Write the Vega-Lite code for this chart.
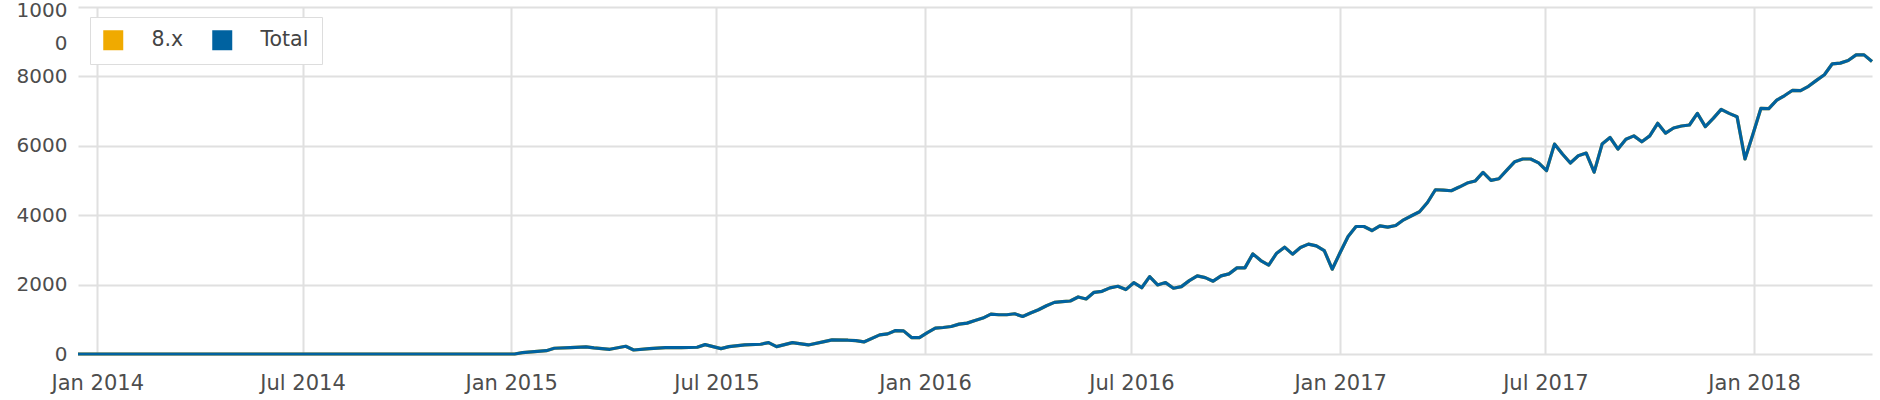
{
  "$schema": "https://vega.github.io/schema/vega-lite/v6.json",
  "width": 1794,
  "height": 347,
  "autosize": {"type": "none"},
  "padding": {"left": 78, "top": 7, "right": 8, "bottom": 46},
  "background": "white",
  "config": {"view": {"stroke": null}, "font": "DejaVu Sans"},
  "data": {"values": [
    {"date":"2013-12-15","v8x":0,"total":0},{"date":"2013-12-22","v8x":0,"total":0},{"date":"2013-12-29","v8x":0,"total":0},
    {"date":"2014-01-05","v8x":0,"total":0},{"date":"2014-01-12","v8x":0,"total":0},{"date":"2014-01-19","v8x":0,"total":0},{"date":"2014-01-26","v8x":0,"total":0},
    {"date":"2014-02-02","v8x":0,"total":0},{"date":"2014-02-09","v8x":0,"total":0},{"date":"2014-02-16","v8x":0,"total":0},{"date":"2014-02-23","v8x":0,"total":0},
    {"date":"2014-03-02","v8x":0,"total":0},{"date":"2014-03-09","v8x":0,"total":0},{"date":"2014-03-16","v8x":0,"total":0},{"date":"2014-03-23","v8x":0,"total":0},{"date":"2014-03-30","v8x":0,"total":0},
    {"date":"2014-04-06","v8x":0,"total":0},{"date":"2014-04-13","v8x":0,"total":0},{"date":"2014-04-20","v8x":0,"total":0},{"date":"2014-04-27","v8x":0,"total":0},
    {"date":"2014-05-04","v8x":0,"total":0},{"date":"2014-05-11","v8x":0,"total":0},{"date":"2014-05-18","v8x":0,"total":0},{"date":"2014-05-25","v8x":0,"total":0},
    {"date":"2014-06-01","v8x":0,"total":0},{"date":"2014-06-08","v8x":0,"total":0},{"date":"2014-06-15","v8x":0,"total":0},{"date":"2014-06-22","v8x":0,"total":0},{"date":"2014-06-29","v8x":0,"total":0},
    {"date":"2014-07-06","v8x":0,"total":0},{"date":"2014-07-13","v8x":0,"total":0},{"date":"2014-07-20","v8x":0,"total":0},{"date":"2014-07-27","v8x":0,"total":0},
    {"date":"2014-08-03","v8x":0,"total":0},{"date":"2014-08-10","v8x":0,"total":0},{"date":"2014-08-17","v8x":0,"total":0},{"date":"2014-08-24","v8x":0,"total":0},{"date":"2014-08-31","v8x":0,"total":0},
    {"date":"2014-09-07","v8x":0,"total":0},{"date":"2014-09-14","v8x":0,"total":0},{"date":"2014-09-21","v8x":0,"total":0},{"date":"2014-09-28","v8x":0,"total":0},
    {"date":"2014-10-05","v8x":0,"total":0},{"date":"2014-10-12","v8x":0,"total":0},{"date":"2014-10-19","v8x":0,"total":0},{"date":"2014-10-26","v8x":0,"total":0},
    {"date":"2014-11-02","v8x":0,"total":0},{"date":"2014-11-09","v8x":0,"total":0},{"date":"2014-11-16","v8x":0,"total":0},{"date":"2014-11-23","v8x":0,"total":0},{"date":"2014-11-30","v8x":0,"total":0},
    {"date":"2014-12-07","v8x":0,"total":0},{"date":"2014-12-14","v8x":0,"total":0},{"date":"2014-12-21","v8x":0,"total":0},{"date":"2014-12-28","v8x":0,"total":0},
    {"date":"2015-01-04","v8x":0,"total":0},{"date":"2015-01-11","v8x":38,"total":38},
    {"date":"2015-02-01","v8x":96,"total":96},{"date":"2015-02-08","v8x":165,"total":165},{"date":"2015-02-22","v8x":183,"total":183},
    {"date":"2015-03-08","v8x":203,"total":203},{"date":"2015-03-15","v8x":174,"total":174},{"date":"2015-03-29","v8x":136,"total":136},
    {"date":"2015-04-12","v8x":223,"total":223},{"date":"2015-04-19","v8x":116,"total":116},{"date":"2015-05-03","v8x":154,"total":154},
    {"date":"2015-05-17","v8x":183,"total":183},{"date":"2015-05-31","v8x":183,"total":183},{"date":"2015-06-14","v8x":194,"total":194},
    {"date":"2015-06-21","v8x":270,"total":270},{"date":"2015-07-05","v8x":154,"total":154},{"date":"2015-07-12","v8x":212,"total":212},
    {"date":"2015-07-26","v8x":261,"total":261},{"date":"2015-08-09","v8x":281,"total":281},{"date":"2015-08-16","v8x":328,"total":328},
    {"date":"2015-08-23","v8x":212,"total":212},{"date":"2015-09-06","v8x":328,"total":328},{"date":"2015-09-20","v8x":261,"total":261},
    {"date":"2015-10-04","v8x":357,"total":357},{"date":"2015-10-11","v8x":406,"total":406},{"date":"2015-10-25","v8x":397,"total":397},
    {"date":"2015-11-01","v8x":386,"total":386},{"date":"2015-11-08","v8x":348,"total":348},{"date":"2015-11-22","v8x":551,"total":551},
    {"date":"2015-11-29","v8x":580,"total":580},{"date":"2015-12-06","v8x":676,"total":676},{"date":"2015-12-13","v8x":667,"total":667},
    {"date":"2015-12-20","v8x":473,"total":473},{"date":"2015-12-27","v8x":473,"total":473},
    {"date":"2016-01-03","v8x":618,"total":618},{"date":"2016-01-10","v8x":745,"total":745},{"date":"2016-01-17","v8x":763,"total":763},{"date":"2016-01-24","v8x":792,"total":792},{"date":"2016-01-31","v8x":861,"total":861},
    {"date":"2016-02-07","v8x":890,"total":890},{"date":"2016-02-14","v8x":966,"total":966},{"date":"2016-02-21","v8x":1035,"total":1035},{"date":"2016-02-28","v8x":1151,"total":1151},
    {"date":"2016-03-06","v8x":1131,"total":1131},{"date":"2016-03-13","v8x":1131,"total":1131},{"date":"2016-03-20","v8x":1160,"total":1160},{"date":"2016-03-27","v8x":1082,"total":1082},
    {"date":"2016-04-03","v8x":1180,"total":1180},{"date":"2016-04-10","v8x":1276,"total":1276},{"date":"2016-04-17","v8x":1392,"total":1392},{"date":"2016-04-24","v8x":1488,"total":1488},
    {"date":"2016-05-01","v8x":1508,"total":1508},{"date":"2016-05-08","v8x":1528,"total":1528},{"date":"2016-05-15","v8x":1644,"total":1644},{"date":"2016-05-22","v8x":1586,"total":1586},{"date":"2016-05-29","v8x":1778,"total":1778},
    {"date":"2016-06-05","v8x":1807,"total":1807},{"date":"2016-06-12","v8x":1905,"total":1905},{"date":"2016-06-19","v8x":1952,"total":1952},{"date":"2016-06-26","v8x":1856,"total":1856},
    {"date":"2016-07-03","v8x":2055,"total":2055},{"date":"2016-07-10","v8x":1910,"total":1910},{"date":"2016-07-17","v8x":2230,"total":2230},{"date":"2016-07-24","v8x":1991,"total":1991},{"date":"2016-07-31","v8x":2058,"total":2058},
    {"date":"2016-08-07","v8x":1896,"total":1896},{"date":"2016-08-14","v8x":1942,"total":1942},{"date":"2016-08-21","v8x":2115,"total":2115},{"date":"2016-08-28","v8x":2251,"total":2251},
    {"date":"2016-09-04","v8x":2202,"total":2202},{"date":"2016-09-11","v8x":2098,"total":2098},{"date":"2016-09-18","v8x":2251,"total":2251},{"date":"2016-09-25","v8x":2309,"total":2309},
    {"date":"2016-10-02","v8x":2482,"total":2482},{"date":"2016-10-09","v8x":2482,"total":2482},{"date":"2016-10-16","v8x":2886,"total":2886},{"date":"2016-10-23","v8x":2693,"total":2693},{"date":"2016-10-30","v8x":2560,"total":2560},
    {"date":"2016-11-06","v8x":2906,"total":2906},{"date":"2016-11-13","v8x":3079,"total":3079},{"date":"2016-11-20","v8x":2877,"total":2877},{"date":"2016-11-27","v8x":3068,"total":3068},
    {"date":"2016-12-04","v8x":3166,"total":3166},{"date":"2016-12-11","v8x":3117,"total":3117},{"date":"2016-12-18","v8x":2982,"total":2982},{"date":"2016-12-25","v8x":2444,"total":2444},
    {"date":"2017-01-01","v8x":2924,"total":2924},{"date":"2017-01-08","v8x":3385,"total":3385},{"date":"2017-01-15","v8x":3674,"total":3674},{"date":"2017-01-22","v8x":3674,"total":3674},{"date":"2017-01-29","v8x":3558,"total":3558},
    {"date":"2017-02-05","v8x":3694,"total":3694},{"date":"2017-02-12","v8x":3656,"total":3656},{"date":"2017-02-19","v8x":3703,"total":3703},{"date":"2017-02-26","v8x":3867,"total":3867},
    {"date":"2017-03-05","v8x":3983,"total":3983},{"date":"2017-03-12","v8x":4098,"total":4098},{"date":"2017-03-19","v8x":4366,"total":4366},{"date":"2017-03-26","v8x":4733,"total":4733},
    {"date":"2017-04-02","v8x":4724,"total":4724},{"date":"2017-04-09","v8x":4704,"total":4704},{"date":"2017-04-16","v8x":4811,"total":4811},{"date":"2017-04-23","v8x":4926,"total":4926},{"date":"2017-04-30","v8x":4984,"total":4984},
    {"date":"2017-05-07","v8x":5232,"total":5232},{"date":"2017-05-14","v8x":5002,"total":5002},{"date":"2017-05-21","v8x":5050,"total":5050},{"date":"2017-05-28","v8x":5300,"total":5300},
    {"date":"2017-06-04","v8x":5543,"total":5543},{"date":"2017-06-11","v8x":5620,"total":5620},{"date":"2017-06-18","v8x":5620,"total":5620},{"date":"2017-06-25","v8x":5506,"total":5506},
    {"date":"2017-07-02","v8x":5286,"total":5286},{"date":"2017-07-09","v8x":6049,"total":6049},{"date":"2017-07-16","v8x":5763,"total":5763},{"date":"2017-07-23","v8x":5506,"total":5506},{"date":"2017-07-30","v8x":5714,"total":5714},
    {"date":"2017-08-06","v8x":5791,"total":5791},{"date":"2017-08-13","v8x":5240,"total":5240},{"date":"2017-08-20","v8x":6049,"total":6049},{"date":"2017-08-27","v8x":6240,"total":6240},
    {"date":"2017-09-03","v8x":5906,"total":5906},{"date":"2017-09-10","v8x":6191,"total":6191},{"date":"2017-09-17","v8x":6286,"total":6286},{"date":"2017-09-24","v8x":6114,"total":6114},
    {"date":"2017-10-01","v8x":6286,"total":6286},{"date":"2017-10-08","v8x":6649,"total":6649},{"date":"2017-10-15","v8x":6363,"total":6363},{"date":"2017-10-22","v8x":6514,"total":6514},{"date":"2017-10-29","v8x":6571,"total":6571},
    {"date":"2017-11-05","v8x":6600,"total":6600},{"date":"2017-11-12","v8x":6934,"total":6934},{"date":"2017-11-19","v8x":6554,"total":6554},{"date":"2017-11-26","v8x":6791,"total":6791},
    {"date":"2017-12-03","v8x":7049,"total":7049},{"date":"2017-12-10","v8x":6934,"total":6934},{"date":"2017-12-17","v8x":6840,"total":6840},{"date":"2017-12-24","v8x":5620,"total":5620},{"date":"2017-12-31","v8x":6334,"total":6334},
    {"date":"2018-01-07","v8x":7077,"total":7077},{"date":"2018-01-14","v8x":7069,"total":7069},{"date":"2018-01-21","v8x":7314,"total":7314},{"date":"2018-01-28","v8x":7449,"total":7449},
    {"date":"2018-02-04","v8x":7600,"total":7600},{"date":"2018-02-11","v8x":7591,"total":7591},{"date":"2018-02-18","v8x":7714,"total":7714},{"date":"2018-02-25","v8x":7886,"total":7886},
    {"date":"2018-03-04","v8x":8049,"total":8049},{"date":"2018-03-11","v8x":8363,"total":8363},{"date":"2018-03-18","v8x":8383,"total":8383},{"date":"2018-03-25","v8x":8457,"total":8457},
    {"date":"2018-04-01","v8x":8620,"total":8620},{"date":"2018-04-08","v8x":8620,"total":8620},{"date":"2018-04-15","v8x":8429,"total":8429}
  ]},
  "transform": [{"fold": ["v8x", "total"], "as": ["series", "value"]}],
  "mark": {"type": "line", "strokeWidth": 3.2, "strokeJoin": "round"},
  "encoding": {
    "x": {
      "field": "date", "type": "temporal",
      "scale": {"type": "utc", "domain": ["2013-12-15", "2018-04-15"]},
      "axis": {
        "title": null, "format": "%b %Y", "tickCount": {"interval": "month", "step": 6},
        "grid": true, "gridColor": "#e0e0e0", "gridWidth": 2,
        "domain": false, "ticks": false,
        "labelFontSize": 21, "labelColor": "#4d4d4d", "labelPadding": 18, "labelFlush": false, "labelAlign": "center"
      }
    },
    "y": {
      "field": "value", "type": "quantitative",
      "scale": {"domain": [0, 10000]},
      "axis": {
        "title": null, "values": [0, 2000, 4000, 6000, 8000, 10000],
        "labelExpr": "datum.value == 10000 ? ['1000', '0'] : datum.label",
        "format": "d", "labelLineHeight": 33,
        "labelOffset": {"condition": {"test": "datum.value == 10000", "value": 3}, "value": 0},
        "grid": true, "gridColor": "#e0e0e0", "gridWidth": 2,
        "domain": false, "ticks": false,
        "labelFontSize": 20, "labelColor": "#4d4d4d", "labelPadding": 11
      }
    },
    "color": {
      "field": "series", "type": "nominal",
      "scale": {"domain": ["v8x", "total"], "range": ["#f0aa00", "#0062a0"]},
      "legend": {
        "title": null, "orient": "none", "legendX": 12, "legendY": 10, "direction": "horizontal",
        "offset": 0, "gridAlign": "none",
        "labelExpr": "datum.value == 'v8x' ? '8.x' : 'Total'",
        "symbolType": "square", "symbolSize": 400, "symbolStrokeWidth": 0,
        "labelFontSize": 20.5, "labelColor": "#444444", "labelOffset": 28, "columnPadding": 28,
        "padding": 13, "strokeColor": "#dddddd", "fillColor": "white",
        "encode": {"symbols": {"update": {"fill": {"scale": "color", "field": "value"}, "stroke": {"value": "transparent"}}}}
      }
    }
  }
}
